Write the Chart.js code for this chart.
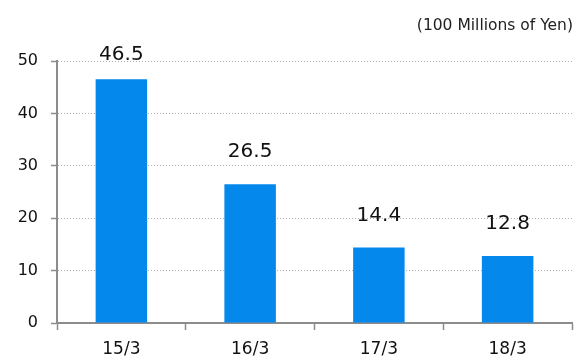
<!DOCTYPE html>
<html>
<head>
<meta charset="utf-8">
<script src="https://cdn.jsdelivr.net/npm/chart.js@4"></script>
<style>
  html, body { margin: 0; padding: 0; background: #fff; }
  #wrap { position: relative; width: 576px; height: 358px; }
  #unit { position: absolute; right: 3px; top: 16px; font: 15.5px "DejaVu Sans", sans-serif; color: #222; }
</style>
</head>
<body>
<div id="wrap">
  <canvas id="chart" width="576" height="358"></canvas>
  <div id="unit">(100 Millions of Yen)</div>
</div>
<script>
const categories = ['15/3', '16/3', '17/3', '18/3'];
const values = [46.5, 26.5, 14.4, 12.8];
const yTicks = [0, 10, 20, 30, 40, 50];

const axisColor = '#8c8c8c';
const font = '"DejaVu Sans", sans-serif';

// draws the number above each bar, kept near the top of the plot
const valueLabels = {
  id: 'valueLabels',
  afterDatasetsDraw(chart) {
    const ctx = chart.ctx;
    const meta = chart.getDatasetMeta(0);
    ctx.save();
    ctx.font = '20px ' + font;
    ctx.fillStyle = '#111';
    ctx.textAlign = 'center';
    ctx.textBaseline = 'middle';
    meta.data.forEach((bar, i) => {
      const y = Math.max(bar.y - 32, chart.chartArea.top - 6);
      ctx.fillText(values[i].toFixed(1), bar.x, y);
    });
    ctx.restore();
  }
};

new Chart(document.getElementById('chart'), {
  type: 'bar',
  data: {
    labels: categories,
    datasets: [{
      data: values,
      backgroundColor: '#0588ec',
      borderWidth: 0,
      categoryPercentage: 0.8,
      barPercentage: 0.5
    }]
  },
  options: {
    responsive: false,
    animation: false,
    events: [],
    layout: { padding: { top: 61, right: 4, left: 0, bottom: 0 } },
    plugins: { legend: { display: false }, tooltip: { enabled: false } },
    scales: {
      x: {
        afterFit(scale) { scale.height = 35; },
        grid: {
          offset: true,
          drawOnChartArea: false,
          drawTicks: true,
          tickLength: 7,
          tickColor: axisColor,
          tickWidth: 1.5
        },
        border: { color: axisColor, width: 2 },
        ticks: { color: '#111', font: { size: 17, family: font }, padding: 9 }
      },
      y: {
        min: 0,
        max: 50,
        afterFit(scale) { scale.width = 57; },
        afterBuildTicks(scale) { scale.ticks = yTicks.map(v => ({ value: v })); },
        grid: {
          color: ctx => ctx.tick && ctx.tick.value === 0 ? 'rgba(0,0,0,0)' : '#b0b0b0',
          lineWidth: 1,
          tickLength: 6,
          tickColor: axisColor,
          tickWidth: 1.5,
          tickBorderDash: []
        },
        border: { color: axisColor, width: 2, dash: [1, 2] },
        ticks: { color: '#111', font: { size: 16, family: font }, padding: 13 }
      }
    }
  },
  plugins: [valueLabels]
});
</script>
</body>
</html>
